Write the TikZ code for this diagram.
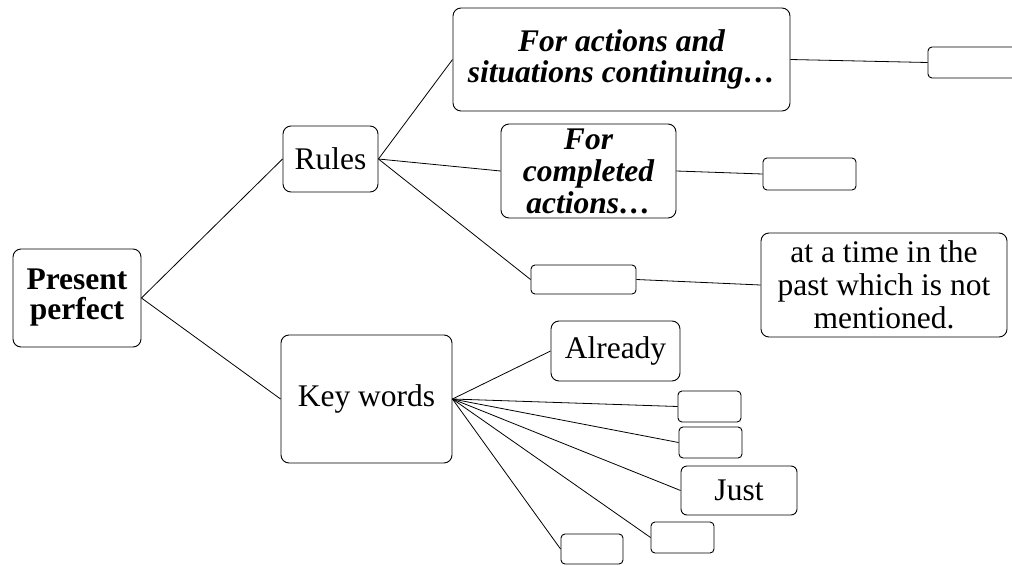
\documentclass[tikz,border=0pt]{standalone}
\usepackage{fontspec}
\setmainfont{Liberation Serif}
\begin{document}
\begin{tikzpicture}[x=1pt,y=-1pt,
  box/.style={draw, line width=0.9pt, rounded corners=8pt, inner sep=0pt,
    align=center, font=\fontsize{31.5}{33}\selectfont},
  blank/.style={draw, line width=0.9pt, rounded corners=4pt, inner sep=0pt},
  link/.style={line width=0.8pt}]
\useasboundingbox (0,0) rectangle (1012,565);
\clip (0,0) rectangle (1012,565);

% root and the two branches
\node[box, minimum width=128pt, minimum height=98pt,
  font=\fontsize{31.5}{30}\selectfont\bfseries] (pp) at (77,298) {Present\\perfect};
\node[box, minimum width=95pt, minimum height=66pt] (rules) at (330.5,159) {Rules};
\node[box, minimum width=171pt, minimum height=128pt] (kw) at (366.5,399) {Key words};

% rules
\node[box, minimum width=337pt, minimum height=103pt,
  font=\fontsize{31.5}{31}\selectfont\bfseries\itshape] (fa) at (621.5,59.5)
  {For actions and\\situations continuing…};
\node[box, minimum width=175pt, minimum height=94pt,
  font=\fontsize{31.5}{32}\selectfont\bfseries\itshape] (fc) at (588.5,171)
  {For\\completed\\actions…};
\node[blank, minimum width=105pt, minimum height=29pt] (b3) at (583.5,279.5) {};
\node[blank, minimum width=92pt, minimum height=31pt] (b1) at (974,62.5) {};
\node[blank, minimum width=93pt, minimum height=32pt] (b2) at (809.5,174) {};
\node[box, minimum width=246pt, minimum height=104pt] (past) at (884,285)
  {at a time in the\\past which is not\\mentioned.};

% key words
\node[box, minimum width=129pt, minimum height=60pt] (already) at (615.5,351) {Already};
\node[blank, minimum width=63pt, minimum height=31pt] (e1) at (709.5,406.5) {};
\node[blank, minimum width=63pt, minimum height=31pt] (e2) at (710.5,442.5) {};
\node[box, rounded corners=6pt, minimum width=116pt, minimum height=49pt] (just) at (739,490.5) {Just};
\node[blank, minimum width=63pt, minimum height=31pt] (e3) at (682.5,537.5) {};
\node[blank, minimum width=62pt, minimum height=30pt] (e4) at (592,549) {};

% connectors
\draw[link] (pp.east) -- (rules.west);
\draw[link] (pp.east) -- (kw.west);
\draw[link] (rules.east) -- (fa.west);
\draw[link] (rules.east) -- (fc.west);
\draw[link] (rules.east) -- (b3.west);
\draw[link] (fa.east) -- (b1.west);
\draw[link] (fc.east) -- (b2.west);
\draw[link] (b3.east) -- (past.west);
\foreach \n in {already,e1,e2,just,e3,e4}
  \draw[link] (kw.east) -- (\n.west);
\end{tikzpicture}
\end{document}
